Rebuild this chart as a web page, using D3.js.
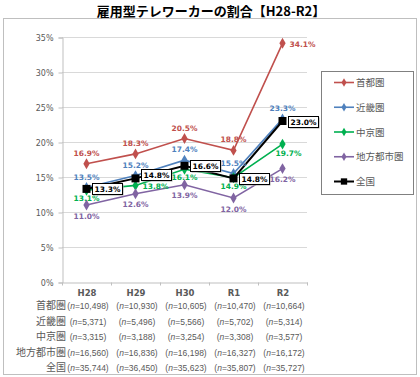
<!DOCTYPE html>
<html>
<head>
<meta charset="utf-8">
<script src="https://cdn.jsdelivr.net/npm/d3@7"></script>
<style>
  html, body { margin: 0; padding: 0; background: #fff; }
  svg { display: block; }
  text { font-family: "DejaVu Sans", "Noto Sans CJK JP", sans-serif; }
  .jp { font-family: "Noto Sans CJK JP", sans-serif; }
</style>
</head>
<body>
<div id="chart"></div>
<script>
// 年度
const years = ['H28', 'H29', 'H30', 'R1', 'R2'];
// 系列名
const regions = ['首都圏', '近畿圏', '中京圏', '地方都市圏', '全国'];
// 割合（%）
const shutoken = [16.9, 18.3, 20.5, 18.8, 34.1];
const kinki    = [13.5, 15.2, 17.4, 15.5, 23.3];
const chukyo   = [13.1, 13.8, 16.1, 14.9, 19.7];
const chiho    = [11.0, 12.6, 13.9, 12.0, 16.2];
const zenkoku  = [13.3, 14.8, 16.6, 14.8, 23.0];
// 回答者数
const nShutoken = ['10,498', '10,930', '10,605', '10,470', '10,664'];
const nKinki    = ['5,371', '5,496', '5,566', '5,702', '5,314'];
const nChukyo   = ['3,315', '3,188', '3,254', '3,308', '3,577'];
const nChiho    = ['16,560', '16,836', '16,198', '16,327', '16,172'];
const nZenkoku  = ['35,744', '36,450', '35,623', '35,807', '35,727'];
const yTicks = [0, 5, 10, 15, 20, 25, 30, 35];

const W = 420, H = 377;
const colors = ['#C0504D', '#4F81BD', '#00B050', '#8064A2', '#000000'];
const values = [shutoken, kinki, chukyo, chiho, zenkoku];
const nValues = [nShutoken, nKinki, nChukyo, nChiho, nZenkoku];

// ラベル位置（上/下/右/枠付き）
const labelPlace = [
  ['up', 'up', 'up', 'up', 'right'],
  ['up', 'up', 'up', 'up', 'up'],
  ['down', 'right', 'down', 'down', 'downright'],
  ['down2', 'down2', 'down2', 'down2', 'down2'],
  ['box', 'boxup', 'box', 'box', 'box']
];

const svg = d3.select('#chart').append('svg')
  .attr('width', W).attr('height', H);

// 外枠
svg.append('rect')
  .attr('x', 3.5).attr('y', 18.5)
  .attr('width', 413).attr('height', 356)
  .attr('fill', '#fff').attr('stroke', '#BFBFBF').attr('stroke-width', 1);

// タイトル
svg.append('text')
  .attr('class', 'jp')
  .attr('x', 211).attr('y', 16)
  .attr('text-anchor', 'middle')
  .attr('font-size', 13).attr('font-weight', 'bold')
  .attr('fill', '#000')
  .text('雇用型テレワーカーの割合【H28-R2】');

const x = d3.scaleBand().domain(years).range([62, 307]).paddingInner(0).paddingOuter(0);
const cx = d => x(d) + x.bandwidth() / 2;
const y = d3.scaleLinear().domain([0, 35]).range([282, 37]);

// グリッド線
svg.append('g')
  .selectAll('line')
  .data(yTicks.filter(d => d > 0))
  .enter().append('line')
  .attr('x1', 62).attr('x2', 307)
  .attr('y1', d => Math.round(y(d)) + 0.5).attr('y2', d => Math.round(y(d)) + 0.5)
  .attr('stroke', '#D9D9D9').attr('stroke-width', 1);

// Y軸
const yAxis = svg.append('g')
  .attr('transform', 'translate(62.5,0.5)')
  .call(d3.axisLeft(y).tickValues(yTicks).tickFormat(d => d + '%').tickSizeOuter(0).tickSize(4).tickPadding(5));
yAxis.select('.domain').attr('stroke', '#BFBFBF');
yAxis.selectAll('.tick line').attr('stroke', '#BFBFBF');
yAxis.selectAll('text').attr('font-size', 8).attr('fill', '#595959');

// X軸
const xAxis = svg.append('g')
  .attr('transform', 'translate(0.5,' + (Math.round(y(0)) + 0.5) + ')')
  .call(d3.axisBottom(x).tickSize(0).tickPadding(7));
xAxis.select('.domain').attr('stroke', '#BFBFBF');
xAxis.selectAll('text').attr('font-size', 8.5).attr('font-weight', 'bold').attr('fill', '#595959');
xAxis.selectAll('.sep')
  .data(d3.range(years.length + 1))
  .enter().append('line')
  .attr('x1', i => 62 + i * x.bandwidth()).attr('x2', i => 62 + i * x.bandwidth())
  .attr('y1', 0).attr('y2', 3)
  .attr('stroke', '#BFBFBF');

// 系列
const line = d3.line().x((d, i) => cx(years[i])).y(d => y(d));
const diamond = d3.symbol().type(d3.symbolDiamond).size(34);
const square = d3.symbol().type(d3.symbolSquare).size(64);

values.forEach((vals, s) => {
  const g = svg.append('g');
  g.append('path')
    .datum(vals)
    .attr('d', line)
    .attr('fill', 'none')
    .attr('stroke', colors[s])
    .attr('stroke-width', s === 4 ? 2 : 1.6);
  g.selectAll('path.mk')
    .data(vals)
    .enter().append('path')
    .attr('class', 'mk')
    .attr('d', s === 4 ? square : diamond)
    .attr('transform', (d, i) => `translate(${cx(years[i])},${y(d)})`)
    .attr('fill', colors[s]);
});

// データラベル
values.forEach((vals, s) => {
  vals.forEach((v, i) => {
    const px = cx(years[i]), py = y(v);
    const place = labelPlace[s][i];
    const txt = v.toFixed(1) + '%';
    if (place === 'box' || place === 'boxup') {
      const by = place === 'boxup' ? py - 3.5 : py;
      const bx = Math.round(px + 5);
      svg.append('rect')
        .attr('x', bx + 1.5).attr('y', Math.round(by - 5.5) + 1.5)
        .attr('width', 30).attr('height', 11)
        .attr('fill', '#A6A6A6');
      svg.append('rect')
        .attr('x', bx + 0.5).attr('y', Math.round(by - 5.5) + 0.5)
        .attr('width', 30).attr('height', 11)
        .attr('fill', '#fff').attr('stroke', '#000').attr('stroke-width', 1);
      svg.append('text')
        .attr('x', bx + 15.5).attr('y', Math.round(by - 5.5) + 9)
        .attr('text-anchor', 'middle')
        .attr('font-size', 7.5).attr('font-weight', 'bold')
        .attr('fill', '#000')
        .text(txt);
      return;
    }
    let tx = px, ty = py, anchor = 'middle';
    if (place === 'up') { ty = py - 8; }
    else if (place === 'down') { ty = py + 11; }
    else if (place === 'down2') { ty = py + 13.5; }
    else if (place === 'right') { tx = px + 7; ty = py + 4; anchor = 'start'; }
    else if (place === 'downright') { tx = px + 6; ty = py + 12; }
    svg.append('text')
      .attr('x', tx).attr('y', ty)
      .attr('text-anchor', anchor)
      .attr('font-size', 7.5).attr('font-weight', 'bold')
      .attr('fill', colors[s])
      .text(txt);
  });
});

// 凡例
const legend = svg.append('g');
legend.append('rect')
  .attr('x', 321.5).attr('y', 71.5)
  .attr('width', 92).attr('height', 123)
  .attr('fill', '#fff').attr('stroke', '#808080').attr('stroke-width', 1);
const ly = d3.scalePoint().domain(regions).range([82.5, 181.5]);
regions.forEach((r, s) => {
  const yy = ly(r);
  legend.append('line')
    .attr('x1', 334).attr('x2', 354).attr('y1', yy).attr('y2', yy)
    .attr('stroke', colors[s]).attr('stroke-width', s === 4 ? 2 : 1.6);
  legend.append('path')
    .attr('d', s === 4 ? d3.symbol().type(d3.symbolSquare).size(40)() : d3.symbol().type(d3.symbolDiamond).size(22)())
    .attr('transform', `translate(344,${yy})`)
    .attr('fill', colors[s]);
  legend.append('text')
    .attr('class', 'jp')
    .attr('x', 356).attr('y', yy + 3.5)
    .attr('font-size', 9.5).attr('fill', '#595959')
    .text(r);
});

// 回答者数の表
const rowY = d3.scalePoint().domain(regions).range([306, 368]);
regions.forEach((r, s) => {
  const yy = rowY(r) + 3.3;
  svg.append('text')
    .attr('class', 'jp')
    .attr('x', 66).attr('y', yy)
    .attr('text-anchor', 'end')
    .attr('font-size', 10).attr('fill', '#595959')
    .text(r);
  nValues[s].forEach((n, i) => {
    const t = svg.append('text')
      .attr('x', cx(years[i]) + 1.5).attr('y', yy)
      .attr('text-anchor', 'middle')
      .attr('font-size', 8.5).attr('fill', '#595959')
      .style('font-family', '"Liberation Sans", sans-serif');
    t.append('tspan').text('(');
    t.append('tspan').attr('font-style', 'italic').text('n');
    t.append('tspan').text('=' + n + ')');
  });
});
</script>
</body>
</html>
